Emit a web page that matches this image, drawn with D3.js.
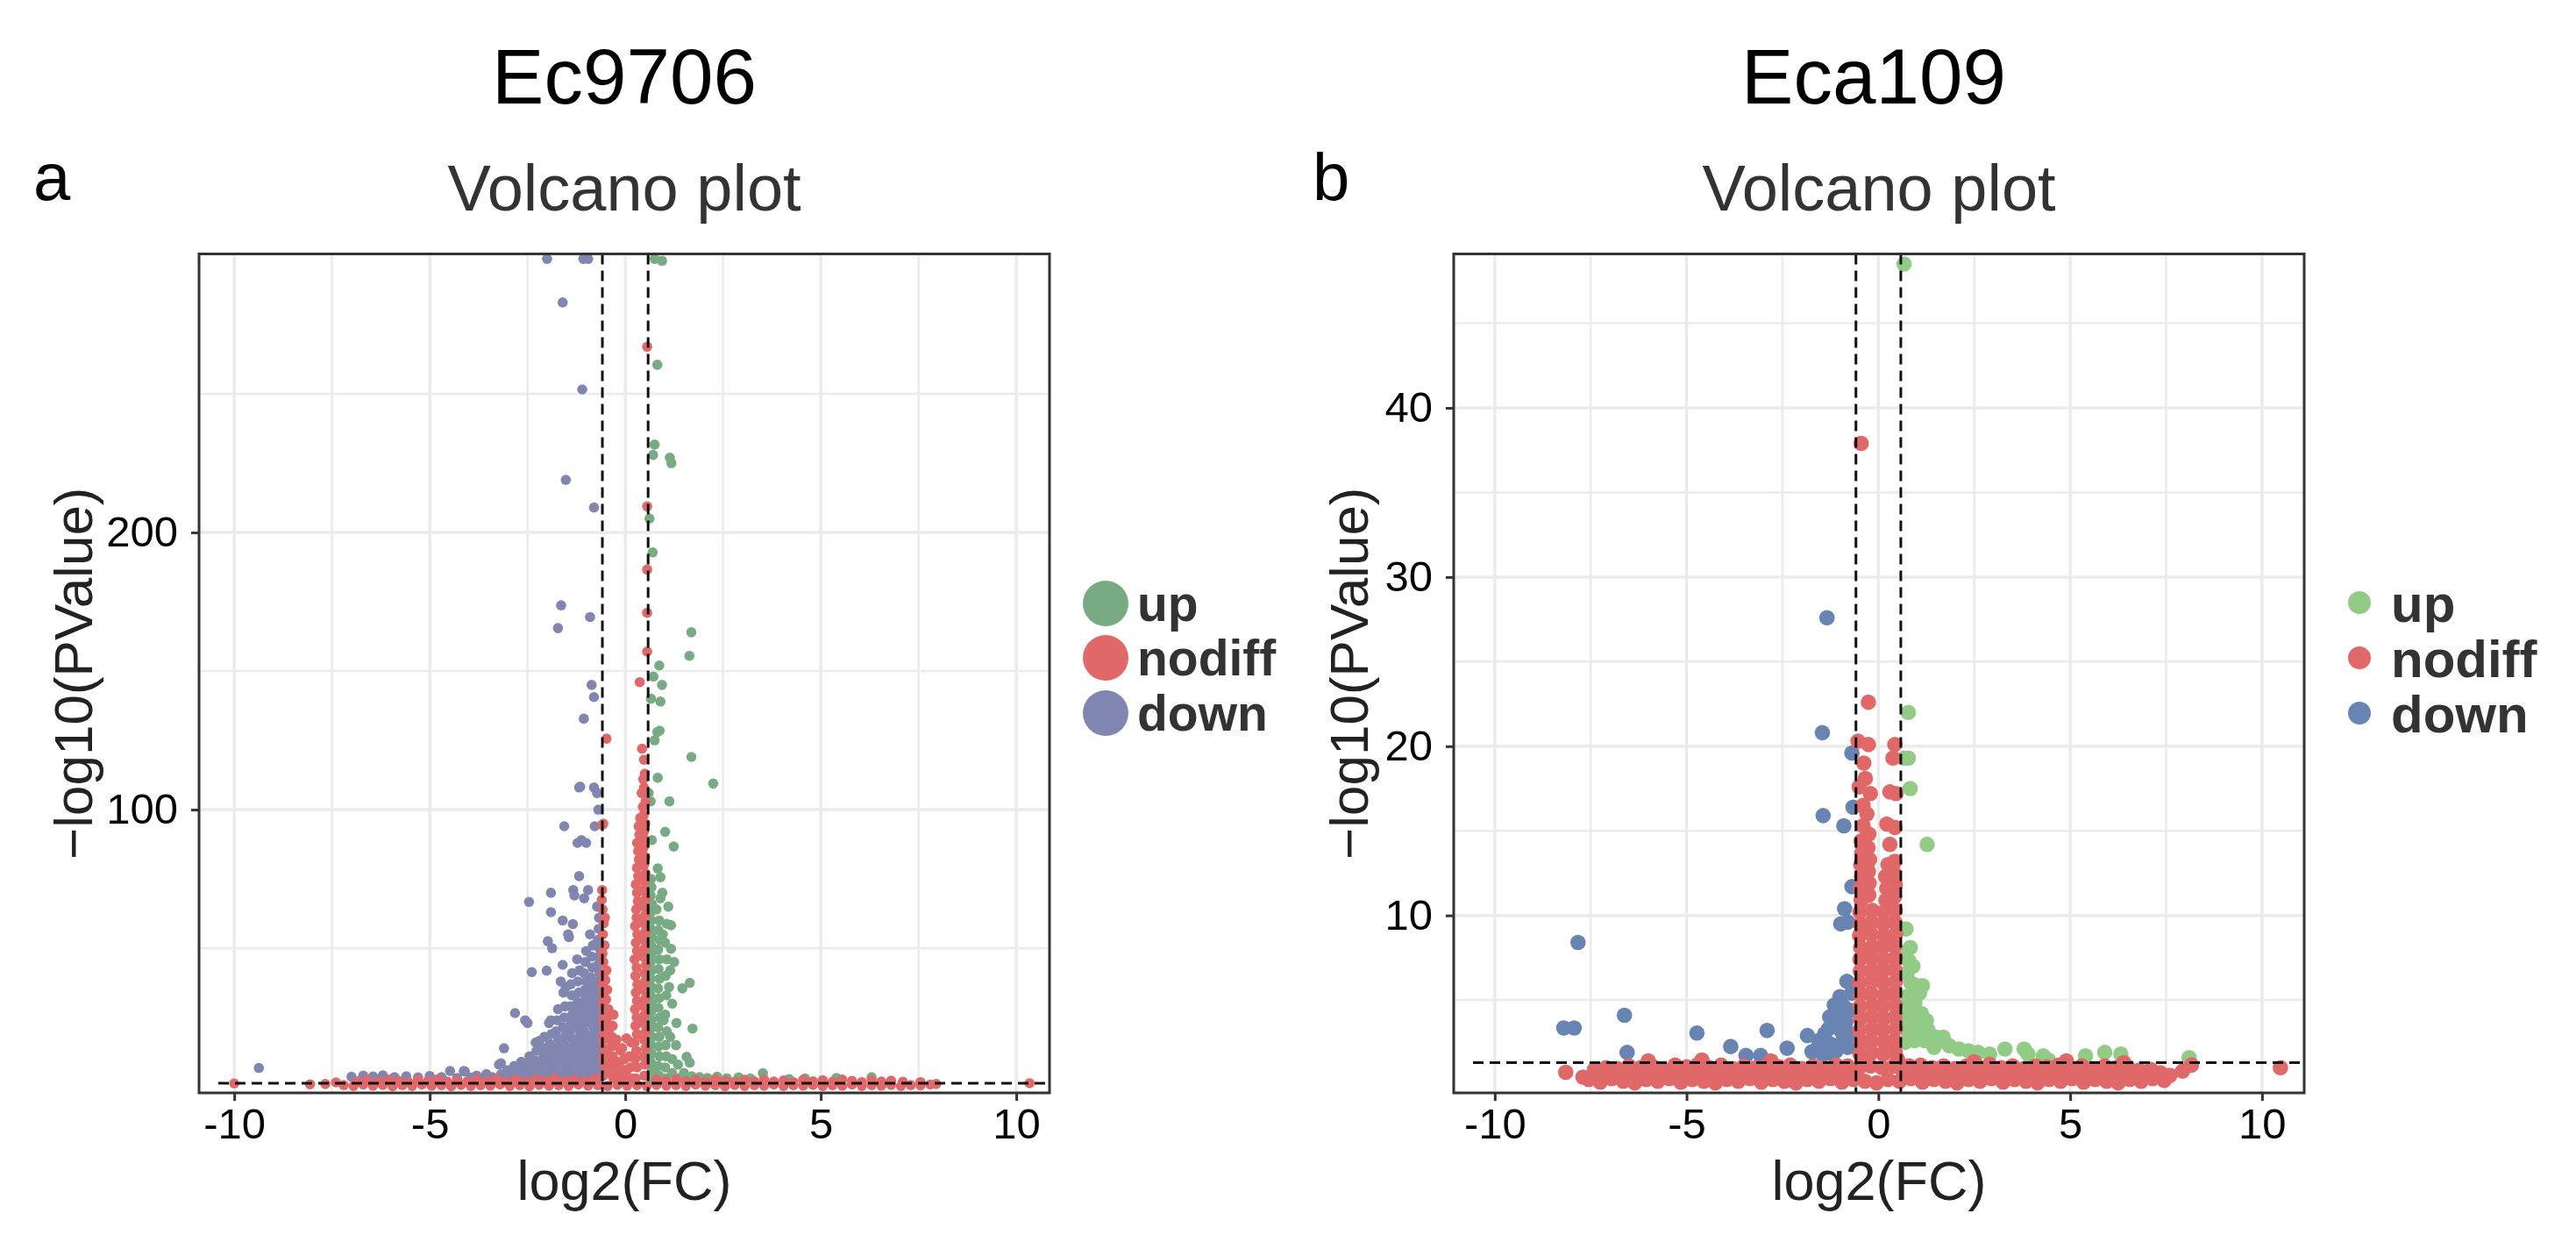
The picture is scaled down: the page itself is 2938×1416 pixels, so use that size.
<!DOCTYPE html>
<html>
<head>
<meta charset="utf-8">
<script src="https://cdn.jsdelivr.net/npm/d3@7"></script>
<style>
  body { margin: 0; background: #fff; }
  text { font-family: "Liberation Sans", Arial, sans-serif; }
</style>
</head>
<body>
<div id="figure"></div>
<script>
// ---- values ----
const categories = ["up", "nodiff", "down"];
const xTicks = [-10, -5, 0, 5, 10];
const xMinorTicks = [-7.5, -2.5, 2.5, 7.5];
const yTicksEc9706 = [100, 200];
const yMinorEc9706 = [50, 150, 250];
const yTicksEca109 = [10, 20, 30, 40];
const yMinorEca109 = [5, 15, 25, 35, 45];
const xDomainEc9706 = [-10.9, 10.85];
const yDomainEc9706 = [-2.2, 300.5];
const xDomainEca109 = [-11.07, 11.1];
const yDomainEca109 = [-0.49, 49.1];
const fcCutoff = [-0.585, 0.585];
const pCutoff = 1.301;

// Ec9706: [log2FC, -log10 P]
const ec9706Up = [
  [0.75,298.7],[0.94,298],[0.82,260.5],[0.75,231.7],[0.71,228],[1.14,227],[1.18,225],[0.62,205],[0.7,192.8],
  [1.69,164],[1.64,155.5],[0.87,152],[0.72,148],[0.94,145],[0.66,140],[0.9,139],[0.82,128],[0.75,125],[0.88,128.5],
  [1.69,119],[2.25,109.4],[0.83,111.5],[0.6,106],[0.65,103],[1.13,103],[1.02,92],[1.24,86.7],[0.68,89],
  [0.83,78.8],[0.9,75.6],[1.06,58.8],[1.17,58.3],[1.17,49.8],[1.65,37.5],[1.46,35.5],[1.31,23],[1.72,21],
  [1.57,10.8],[1.65,8.7],[3.52,4.9],[4.19,2.8],
  [0.66,3],[0.68,6],[0.65,9],[0.67,12],[0.66,15],[0.68,18],[0.65,21],[0.67,24],[0.66,27],[0.68,30],[0.65,33],
  [0.67,36],[0.66,39],[0.68,42],[0.65,45],[0.67,48],[0.66,51],[0.68,54],[0.65,57],[0.67,60],[0.66,63],[0.68,66],
  [0.65,69],[0.67,72],[0.66,75],
  [0.86,4],[0.84,7.5],[0.88,11],[0.85,14.5],[0.87,18],[0.84,21.5],[0.88,25],[0.85,28.5],[0.87,32],[0.84,35.5],
  [0.88,39],[0.85,42.5],[0.87,46],[0.84,49.5],[0.88,53],[0.85,56.5],[0.87,60],[0.8,64],[0.9,68],
  [1.04,3],[1.02,7],[1.05,11],[1.03,15],[1.06,20],[1.02,26],[1.05,33],[1.03,40],[1.06,46],[1.02,52],
  [1.2,30],[1.15,42],[1.25,45],[1.1,65],[0.95,70],[1.3,15],[1.35,8],[1.2,5],[1.5,5],[1.7,3.8],[1.9,3.5],
  [2.1,3.2],[2.35,3.6],[2.6,3.1],[2.9,3.4],[3.2,3.0],[4.6,3.0],[5.4,3.2],[6.3,3.5],[1.0,3],[1.4,3.2],[1.2,10],
  [1.15,18],[0.98,24],[1.12,36],[0.96,55]
];
const ec9706NoDiff = [
  [-7.2,0.6],[-6.95,0.3],[-6.7,0.8],[-6.45,0.4],[-6.2,0.7],[-5.95,0.2],[-5.7,0.6],[-5.45,0.3],[-5.2,0.8],
  [-4.95,0.4],[-4.7,0.6],[-4.45,0.2],[-4.2,0.7],[-3.95,0.3],[-3.7,0.6],[-3.45,0.4],[-3.2,0.8],[-2.95,0.3],
  [-2.7,0.6],[-2.45,0.2],[-2.2,0.7],[-1.95,0.4],[-1.7,0.6],[-1.45,0.3],[-1.2,0.8],[-0.95,0.4],[-0.7,0.6],
  [-0.45,0.3],[-0.2,0.7],[0.05,0.4],[0.3,0.6],[0.55,0.3],[0.8,0.7],[1.05,0.4],[1.3,0.6],[1.55,0.3],[1.8,0.8],
  [2.05,0.4],[2.3,0.6],[2.55,0.2],[2.8,0.7],[3.05,0.3],[3.3,0.6],[3.55,0.4],[3.8,0.8],[4.05,0.3],[4.3,0.6],
  [4.55,0.4],[4.8,0.7],[5.05,0.3],[5.3,0.6],[5.55,0.4],[5.8,0.8],[6.05,0.3],[6.3,0.6],[6.55,0.4],[6.8,0.7],
  [7.05,0.3],[7.3,0.6],[7.55,0.5],[7.8,0.8],
  [-6.85,2.0],[-6.6,2.4],[-6.3,1.8],[-6.05,2.6],[-5.8,2.1],[-5.55,1.7],[-5.3,2.5],[-5.05,2.0],[-4.8,2.7],
  [-4.55,1.9],[-4.3,2.3],[-4.05,1.8],[-3.8,2.6],[-3.55,2.1],[-3.3,2.8],[-3.05,2.0],[-2.8,2.5],[-2.55,1.9],
  [-2.3,2.7],[-2.05,2.2],[-1.8,2.9],[-1.55,2.1],[-1.3,2.6],[-1.05,2.0],[-0.8,2.8],[0.8,2.6],[1.05,2.1],
  [1.3,2.8],[1.55,2.0],[1.8,2.5],[2.05,1.9],[2.3,2.7],[2.55,2.2],[2.8,1.8],[3.05,2.5],[3.3,2.0],[3.55,2.6],
  [3.8,1.9],[4.05,2.3],[4.3,1.7],[4.55,2.5],[4.8,2.0],[5.05,2.4],[5.3,1.8],[5.55,2.6],[5.8,2.1],[6.05,1.7],
  [6.3,2.4],[6.55,1.9],[6.8,2.2],[7.1,1.8],
  [-10.0,1.2],[-8.06,0.9],[-7.67,1.0],[-7.4,1.6],[7.55,1.7],[7.95,1.0],[10.34,1.3],
  [-0.56,4],[-0.43,5],[-0.52,7.5],[-0.38,8.5],[-0.57,10.5],[-0.45,11.5],[-0.53,13.5],[-0.36,14.5],[-0.58,16.5],
  [-0.46,17.5],[-0.54,19.5],[-0.4,21],[-0.57,23],[-0.47,24.5],[-0.55,26.5],[-0.43,28],[-0.58,30],[-0.49,31.5],
  [-0.56,33.5],[-0.46,35],[-0.58,37],[-0.51,38.5],[-0.57,40.5],[-0.48,42],[-0.56,45],[-0.58,48],[-0.53,51],
  [-0.57,55],[-0.55,59],[-0.52,61],[-0.58,64],[-0.6,67.5],[-0.59,71],[-0.59,94.5],[-0.56,94.9],[-0.48,125.6],
  [-0.3,3],[-0.25,7],[-0.32,11],[-0.2,4.5],[-0.15,9],[-0.28,15],[-0.12,13],[-0.34,18],[-0.22,17],[-0.05,3],
  [0.04,6],[-0.02,10],[-0.08,14],[0.1,11],[0.08,2.5],[-0.1,6.5],[0.13,7],[0.15,16],[0.03,17.5],[-0.17,1.5],
  [0.18,3],[-0.32,22],[-0.3,26],
  [0.27,3],[0.49,4],[0.3,7],[0.5,8],[0.25,10],[0.47,11],[0.28,13],[0.52,14],[0.24,16],[0.48,17],[0.3,19],
  [0.53,20],[0.26,22],[0.46,23],[0.29,25],[0.5,26],[0.25,28],[0.48,29],[0.3,31],[0.52,32],[0.27,34],[0.47,35],
  [0.31,37],[0.51,38],[0.26,40],[0.49,41],[0.29,43],[0.53,44],[0.24,46],[0.46,47],[0.3,49],[0.5,50],[0.27,52],
  [0.48,53],[0.31,55],[0.52,56],[0.25,58],[0.47,59],[0.29,61],[0.51,62],[0.28,64],[0.49,65],[0.32,67],[0.53,68],
  [0.3,70],[0.47,71],[0.27,73],[0.5,74],[0.33,76],[0.52,77],[0.3,79],[0.48,80],[0.35,82],[0.51,83],[0.33,85],
  [0.46,86],[0.3,88],[0.5,89],[0.36,91],[0.48,92],[0.34,94],[0.51,95],[0.38,97],[0.47,98],[0.45,101],[0.52,103],
  [0.42,106],[0.48,108],[0.46,111],[0.5,113],[0.48,118],[0.43,122],[0.37,146],[0.56,157],[0.56,171],[0.56,186.6],
  [0.56,209.4],[0.56,267]
];
const ec9706Down = [
  [-0.68,2],[-0.66,5],[-0.7,8],[-0.67,11],[-0.69,14],[-0.66,17],[-0.7,20],[-0.67,23],[-0.69,26],[-0.66,29],
  [-0.7,32],[-0.67,35],[-0.69,38],[-0.66,41],[-0.7,44],[-0.68,47],[-0.66,50],[-0.7,53],[-0.68,57],[-0.67,61],[-0.72,65],
  [-0.84,3.5],[-0.86,6.5],[-0.83,9.5],[-0.87,12.5],[-0.84,15.5],[-0.85,18.5],[-0.82,21.5],[-0.86,24.5],[-0.84,27.5],
  [-0.87,30.5],[-0.83,33.5],[-0.85,36.5],[-0.88,39.5],[-0.84,43],[-0.86,47],[-0.83,51],[-0.9,55],
  [-1.02,2],[-1.0,5],[-1.04,8],[-1.01,11],[-1.03,14],[-1.0,17],[-1.05,20],[-1.02,23],[-1.0,26],[-1.04,29],
  [-1.01,32],[-1.03,35],[-1.0,38],[-1.05,41],[-1.02,45],[-1.0,49],
  [-1.2,3.5],[-1.18,6.5],[-1.22,9.5],[-1.19,12.5],[-1.21,15.5],[-1.17,18.5],[-1.23,21.5],[-1.2,24.5],[-1.18,27.5],
  [-1.22,30.5],[-1.19,34],[-1.21,38],[-1.17,42],[-1.23,46],
  [-1.38,2],[-1.36,5],[-1.4,8],[-1.37,11],[-1.39,14],[-1.35,17],[-1.41,20],[-1.38,23],[-1.36,26],[-1.4,29],
  [-1.37,33],[-1.39,37],[-1.36,41],
  [-1.56,3.5],[-1.54,6.5],[-1.58,9.5],[-1.55,12.5],[-1.57,15.5],[-1.53,18.5],[-1.59,21.5],[-1.56,25],[-1.54,29],[-1.58,34],
  [-1.74,2],[-1.72,5],[-1.76,8],[-1.73,11],[-1.75,14],[-1.71,17],[-1.77,20],[-1.74,24],[-1.72,28],
  [-1.92,3.5],[-1.9,6.5],[-1.94,9.5],[-1.91,12.5],[-1.93,15.5],[-1.89,19],[-1.95,23],
  [-2.1,2],[-2.08,5],[-2.12,8],[-2.09,11],[-2.11,14],[-2.07,18],
  [-2.28,3.5],[-2.26,6.5],[-2.3,9.5],[-2.27,13],[-2.29,16],
  [-2.46,2],[-2.44,5],[-2.48,8],[-2.45,11],
  [-2.64,3.5],[-2.62,6.5],[-2.66,9],[-2.82,2],[-2.8,5],[-2.84,7.5],[-3.0,3.5],[-3.02,6],[-3.2,2],[-3.18,4.5],
  [-2.0,298.7],[-1.07,298.7],[-0.95,298.7],[-1.6,283],[-1.1,251.6],[-1.52,219],[-0.8,209],[-1.64,173.7],
  [-1.72,165.5],[-0.9,169.5],[-0.86,145],[-0.8,140.6],[-1.06,132.8],[-1.18,108],[-0.8,108],[-0.72,106],
  [-1.15,108.3],[-0.69,100],[-1.56,94],[-0.78,94],[-1.12,89],[-1.0,88],[-1.22,88],[-1.18,76],[-1.9,70],
  [-2.46,66.7],[-1.33,71],[-1.3,69],[-0.95,71],[-1.05,68],[-1.9,63],[-1.6,60],[-1.34,58.7],[-1.46,55],
  [-1.44,54],[-1.98,52.5],[-1.87,50],[-2.39,41.4],[-2.01,41.9],[-1.6,44],[-1.65,38],[-1.52,36],[-2.82,26.6],
  [-2.56,24],[-2.5,23],[-1.9,24],[-3.1,13.9],[-2.2,16.5],[-3.23,8],[-3.18,8.5],[-4.1,5.5],[-3.8,4],[-3.55,4.6],
  [-4.48,5.7],[-4.13,5.7],[-9.37,6.8],[-3.4,3.5],
  [-7.0,3.6],[-6.7,4.0],[-6.45,3.7],[-6.2,4.1],[-5.9,3.5],[-5.6,3.8],[-5.3,3.4],[-5.0,3.9],[-4.7,3.5],
  [-3.95,3.3],[-3.6,3.0],[-4.3,3.2]
];

// Eca109: [log2FC, -log10 P]
const eca109Up = [
  [0.67,48.5],[0.78,22],[0.67,19.3],[0.78,19.3],[0.83,17.5],[1.27,14.2],[0.72,9.2],[0.83,8.1],[0.8,7.3],
  [0.75,6.6],[0.85,6.0],[1.0,5.85],[1.15,5.85],[1.07,5.4],[0.72,5.2],[0.91,5.16],[0.8,4.6],[0.95,4.8],
  [1.12,4.2],[1.07,4.07],[1.25,3.8],[0.9,3.9],[1.15,3.7],[1.05,3.3],[1.3,3.2],[1.5,2.8],[1.69,2.8],[1.71,2.6],
  [0.75,3.2],[0.7,2.5],[0.95,2.6],[1.2,2.6],[1.45,2.2],[1.85,2.3],[2.1,2.1],[2.35,2.0],[2.5,1.6],[2.6,1.9],
  [2.9,1.8],[3.3,2.1],[3.8,2.1],[3.9,1.8],[4.3,1.7],[4.43,1.45],[5.4,1.7],[5.9,1.9],[6.32,1.8],[8.1,1.6],
  [0.68,4.0],[0.7,7.8],[0.9,7.0]
];
const eca109NoDiff = [
  [-7.55,0.3],[-7.25,0.15],[-6.95,0.35],[-6.65,0.2],[-6.35,0.1],[-6.05,0.3],[-5.75,0.2],[-5.45,0.35],[-5.15,0.15],
  [-4.85,0.3],[-4.55,0.2],[-4.25,0.1],[-3.95,0.3],[-3.65,0.2],[-3.35,0.35],[-3.05,0.15],[-2.75,0.3],[-2.45,0.2],
  [-2.15,0.1],[-1.85,0.3],[-1.55,0.2],[-1.25,0.35],[-0.95,0.15],[-0.65,0.3],[-0.35,0.2],[-0.05,0.1],[0.25,0.3],
  [0.55,0.2],[0.85,0.35],[1.15,0.15],[1.45,0.3],[1.75,0.2],[2.05,0.1],[2.35,0.3],[2.65,0.2],[2.95,0.35],
  [3.25,0.15],[3.55,0.3],[3.85,0.2],[4.15,0.1],[4.45,0.3],[4.75,0.2],[5.05,0.35],[5.35,0.15],[5.65,0.3],
  [5.95,0.2],[6.25,0.1],[6.55,0.3],[6.85,0.2],[7.15,0.35],[7.45,0.25],
  [-7.25,0.65],[-6.65,0.6],[-6.05,0.7],[-5.45,0.65],[-4.85,0.6],[-4.25,0.7],[-3.65,0.65],[-3.05,0.6],
  [-2.45,0.7],[-1.85,0.65],[-1.25,0.6],[-0.65,0.7],[0.65,0.7],[1.25,0.6],[1.85,0.65],[2.45,0.7],[3.05,0.6],
  [3.65,0.65],[4.25,0.7],[4.85,0.6],[5.45,0.65],[6.05,0.7],[6.65,0.6],[7.25,0.65],
  [-6.95,0.6],[-6.35,0.7],[-5.75,0.6],[-5.15,0.65],[-4.55,0.7],[-3.95,0.6],[-3.35,0.65],[-2.75,0.7],
  [-2.15,0.6],[-1.55,0.65],[-0.95,0.7],[0.95,0.65],[1.55,0.7],[2.15,0.6],[2.75,0.65],[3.35,0.7],[3.95,0.6],
  [4.55,0.65],[5.15,0.7],[5.75,0.6],[6.35,0.65],[6.95,0.7],
  [-0.5,1.0],[-0.2,1.1],[0.1,1.0],[0.4,1.1],
  [-7.4,0.9],[-7.1,1.0],[-6.8,0.95],[-6.5,1.1],[-6.2,1.0],[-5.9,1.1],[-5.6,0.9],[-5.3,1.15],[-5.0,1.05],
  [-4.7,1.2],[-4.4,1.0],[-4.1,1.15],[-3.8,0.95],[-3.5,1.1],[-3.2,1.0],[-2.9,1.15],[-2.6,1.05],[-2.3,1.15],
  [-2.0,0.95],[-1.7,1.1],[-1.4,1.0],[-1.1,1.15],[-0.8,1.1],[0.8,1.1],[1.1,1.15],[1.4,1.0],[1.7,1.1],[2.0,0.95],
  [2.3,1.1],[2.6,1.05],[2.9,1.2],[3.2,1.0],[3.5,1.1],[3.8,0.95],[4.1,1.1],[4.4,1.05],[4.7,1.15],[5.0,1.0],
  [5.3,1.1],[5.6,0.95],[5.9,1.1],[6.2,1.0],[6.5,1.05],[6.8,0.85],[7.1,0.9],[7.35,0.7],
  [-8.15,0.73],[-7.7,0.44],[7.6,0.55],[7.93,0.8],[8.16,1.16],[10.48,1.0],
  [-6.0,1.4],[-4.6,1.45],[-2.8,1.4],[-0.4,1.5],[0.5,1.5],[2.5,1.35],[4.9,1.4],[6.4,1.3],
  [-0.48,1.8],[-0.17,1.9],[0.13,1.8],[0.44,1.9],[-0.46,2.5],[-0.19,2.6],[0.15,2.5],[0.42,2.6],
  [-0.49,3.2],[-0.16,3.3],[0.12,3.2],[0.45,3.3],[-0.47,3.9],[-0.18,4.0],[0.14,3.9],[0.43,4.0],
  [-0.48,4.6],[-0.15,4.7],[0.11,4.6],[0.44,4.7],[-0.46,5.3],[-0.19,5.4],[0.15,5.3],[0.42,5.4],
  [-0.49,6.0],[-0.17,6.1],[0.13,6.0],[0.45,6.1],[-0.47,6.7],[-0.16,6.8],[0.12,6.7],[0.43,6.8],
  [-0.48,7.4],[-0.18,7.5],[0.14,7.4],[0.44,7.5],[-0.46,8.1],[-0.15,8.2],[0.11,8.1],[0.42,8.2],
  [-0.49,8.8],[-0.19,8.9],[0.15,8.8],[0.45,8.9],[-0.47,9.5],[-0.17,9.6],[0.13,9.5],[0.43,9.6],
  [-0.48,10.2],[-0.16,10.3],[0.14,10.2],[0.44,10.3],
  [-0.45,10.9],[-0.25,11.2],[-0.47,11.6],[-0.24,11.9],[-0.44,12.3],[-0.26,12.6],[-0.46,13.0],[-0.23,13.3],
  [-0.43,13.7],[-0.27,14.0],[-0.45,14.4],[-0.25,14.8],[-0.4,15.3],[-0.3,16.0],[-0.4,16.5],[-0.21,17.2],
  [-0.34,18.1],[-0.5,17.6],[-0.38,19.0],[-0.53,20.3],[-0.26,20.1],[-0.26,22.6],[-0.45,37.9],
  [0.2,10.9],[0.42,11.1],[0.22,11.6],[0.44,11.8],[0.19,12.3],[0.41,12.5],[0.25,13.0],[0.43,13.2],[0.3,14.2],
  [0.22,15.4],[0.43,15.2],[0.46,17.2],[0.3,17.3],[0.38,19.3],[0.43,20.1]
];
const eca109Down = [
  [-1.34,27.6],[-1.46,20.8],[-0.69,19.6],[-0.66,16.4],[-1.44,15.9],[-0.9,15.3],[-0.69,11.7],[-0.88,10.4],
  [-0.98,9.5],[-0.8,9.6],[-7.83,8.4],[-0.82,6.1],[-1.0,5.2],[-6.62,4.1],[-8.2,3.35],[-7.93,3.35],[-4.73,3.05],
  [-2.9,3.2],[-1.85,2.9],[-3.85,2.25],[-2.38,2.15],[-3.45,1.72],[-3.07,1.72],[-6.55,1.9],[-1.73,1.95],
  [-1.27,4.0],[-1.05,3.95],[-1.3,3.3],[-1.1,3.4],[-0.85,3.7],[-0.75,4.4],[-0.7,5.4],[-1.55,2.6],[-1.25,2.4],
  [-0.95,2.5],[-1.6,2.1],[-1.1,2.0],[-0.8,2.2],[-1.45,1.8],[-0.72,3.0],[-1.15,4.7],[-0.9,4.6],[-1.4,3.0],
  [-0.95,3.1],[-0.78,2.7],[-1.2,1.8]
];

// ---- drawing ----
const W = 2938, H = 1416;
const svg = d3.select("#figure").append("svg")
  .attr("width", W)
  .attr("height", H)
  .style("display", "block");

svg.append("rect").attr("width", W).attr("height", H).attr("fill", "#fff");

function renderVolcano(cfg) {
  let x = d3.scaleLinear().domain(cfg.xDomain).range([cfg.left, cfg.right]);
  let y = d3.scaleLinear().domain(cfg.yDomain).range([cfg.bottom, cfg.top]);
  let g = svg.append("g");

  let clipId = "clip-" + cfg.key;
  svg.append("clipPath").attr("id", clipId)
    .append("rect")
    .attr("x", cfg.left).attr("y", cfg.top)
    .attr("width", cfg.right - cfg.left).attr("height", cfg.bottom - cfg.top);

  // grid
  let grid = g.append("g").attr("stroke", "#ebebeb");
  grid.selectAll(".vmin").data(xMinorTicks).join("line")
    .attr("x1", d => x(d)).attr("x2", d => x(d))
    .attr("y1", cfg.top).attr("y2", cfg.bottom).attr("stroke-width", 2.5);
  grid.selectAll(".hmin").data(cfg.yMinor).join("line")
    .attr("y1", d => y(d)).attr("y2", d => y(d))
    .attr("x1", cfg.left).attr("x2", cfg.right).attr("stroke-width", 2.5);
  grid.selectAll(".vmaj").data(xTicks).join("line")
    .attr("x1", d => x(d)).attr("x2", d => x(d))
    .attr("y1", cfg.top).attr("y2", cfg.bottom).attr("stroke-width", 3.5);
  grid.selectAll(".hmaj").data(cfg.yTicks).join("line")
    .attr("y1", d => y(d)).attr("y2", d => y(d))
    .attr("x1", cfg.left).attr("x2", cfg.right).attr("stroke-width", 3.5);

  // points
  let pts = g.append("g").attr("clip-path", "url(#" + clipId + ")");
  [["up", cfg.up], ["down", cfg.down], ["nodiff", cfg.nodiff]].forEach(([cat, rows]) => {
    pts.append("g").selectAll("circle").data(rows).join("circle")
      .attr("cx", d => x(d[0]))
      .attr("cy", d => y(d[1]))
      .attr("r", cfg.r)
      .attr("fill", cfg.colors[cat]);
  });

  // threshold lines
  let dash = g.append("g").attr("stroke", "#111").attr("stroke-width", 3)
    .attr("stroke-dasharray", "12,7");
  dash.selectAll(".vcut").data(fcCutoff).join("line")
    .attr("x1", d => x(d)).attr("x2", d => x(d))
    .attr("y1", cfg.top).attr("y2", cfg.bottom);
  dash.append("line")
    .attr("x1", cfg.left + 22).attr("x2", cfg.right)
    .attr("y1", y(pCutoff)).attr("y2", y(pCutoff));

  // panel border
  g.append("rect")
    .attr("x", cfg.left).attr("y", cfg.top)
    .attr("width", cfg.right - cfg.left).attr("height", cfg.bottom - cfg.top)
    .attr("fill", "none").attr("stroke", "#333").attr("stroke-width", 3);

  // axes
  let xAxis = g.append("g")
    .attr("transform", "translate(0," + cfg.bottom + ")")
    .call(d3.axisBottom(x).tickValues(xTicks).tickSize(9).tickPadding(8).tickFormat(d => String(d)));
  let yAxis = g.append("g")
    .attr("transform", "translate(" + cfg.left + ",0)")
    .call(d3.axisLeft(y).tickValues(cfg.yTicks).tickSize(9).tickPadding(15).tickFormat(d => String(d)));
  [xAxis, yAxis].forEach(a => {
    a.select(".domain").remove();
    a.selectAll(".tick line").attr("stroke", "#333").attr("stroke-width", 3);
    a.selectAll(".tick text")
      .style("font-family", "'Liberation Sans', Arial, sans-serif")
      .style("font-size", "49px")
      .attr("fill", "#000");
  });

  // axis titles
  g.append("text")
    .attr("x", (cfg.left + cfg.right) / 2).attr("y", 1368)
    .attr("text-anchor", "middle")
    .style("font-size", "63px").attr("fill", "#222")
    .text("log2(FC)");
  g.append("text")
    .attr("transform", "translate(" + cfg.yTitleX + "," + (cfg.top + cfg.bottom) / 2 + ") rotate(-90)")
    .attr("text-anchor", "middle")
    .style("font-size", "62px").attr("fill", "#222")
    .text("\u2212log10(PValue)");

  // titles
  g.append("text")
    .attr("x", cfg.groupX).attr("y", 118)
    .attr("text-anchor", "middle")
    .style("font-size", "89px").attr("fill", "#000")
    .text(cfg.group);
  g.append("text")
    .attr("x", cfg.letterX).attr("y", 228)
    .style("font-size", "76px").attr("fill", "#000")
    .text(cfg.letter);
  g.append("text")
    .attr("x", (cfg.left + cfg.right) / 2).attr("y", 240)
    .attr("text-anchor", "middle")
    .style("font-size", "74px").attr("fill", "#333")
    .text("Volcano plot");

  // legend
  let leg = g.append("g");
  categories.forEach((c, i) => {
    let cy = cfg.legendY[i];
    leg.append("circle")
      .attr("cx", cfg.legendX).attr("cy", cy).attr("r", cfg.legendR)
      .attr("fill", cfg.colors[c]);
    leg.append("text")
      .attr("x", cfg.legendTextX).attr("y", cy + cfg.legendDy)
      .style("font-size", cfg.legendFont + "px")
      .style("font-weight", "bold")
      .attr("fill", "#333")
      .text(c);
  });
}

renderVolcano({
  key: "a", group: "Ec9706", groupX: 712, letter: "a", letterX: 38,
  up: ec9706Up, nodiff: ec9706NoDiff, down: ec9706Down,
  colors: {up: "#78ab84", nodiff: "#e06868", down: "#8186b0"},
  xDomain: xDomainEc9706, yDomain: yDomainEc9706,
  yTicks: yTicksEc9706, yMinor: yMinorEc9706,
  left: 227, right: 1197, top: 289.5, bottom: 1246,
  r: 5.8, yTitleX: 105,
  legendX: 1261, legendY: [688, 750, 813], legendR: 26, legendTextX: 1297, legendDy: 20, legendFont: 57
});

renderVolcano({
  key: "b", group: "Eca109", groupX: 2137, letter: "b", letterX: 1497,
  up: eca109Up, nodiff: eca109NoDiff, down: eca109Down,
  colors: {up: "#92cb86", nodiff: "#e06868", down: "#6884b2"},
  xDomain: xDomainEca109, yDomain: yDomainEca109,
  yTicks: yTicksEca109, yMinor: yMinorEca109,
  left: 1658, right: 2628, top: 289.5, bottom: 1246,
  r: 8.8, yTitleX: 1560,
  legendX: 2691, legendY: [687, 750, 813], legendR: 13, legendTextX: 2727, legendDy: 22, legendFont: 60
});
</script>
</body>
</html>
